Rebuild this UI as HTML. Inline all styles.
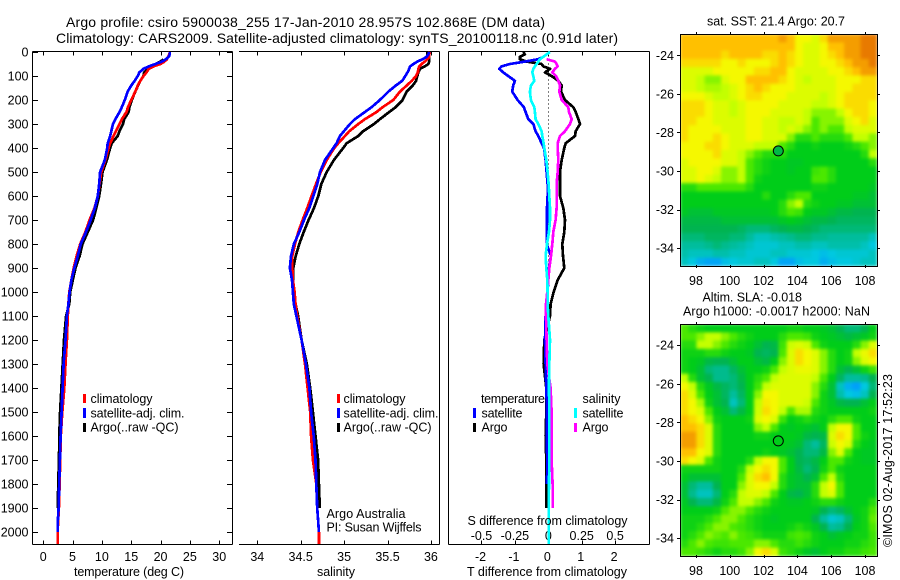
<!DOCTYPE html>
<html>
<head>
<meta charset="utf-8">
<title>Argo profile chart</title>
<style>
html,body{margin:0;padding:0;background:#fff;}
svg{display:block;}
text{font-family:"Liberation Sans",sans-serif;font-size:12.5px;fill:#000;}
</style>
</head>
<body>
<svg id="chart" xmlns="http://www.w3.org/2000/svg" width="900" height="580" viewBox="0 0 900 580">
  <defs>
    <filter id="soft" x="0" y="0" width="100%" height="100%" color-interpolation-filters="sRGB">
      <feGaussianBlur stdDeviation="1.6" edgeMode="duplicate"/>
    </filter>
    <clipPath id="clip-sst"><rect x="680" y="34" width="197" height="232"/></clipPath>
    <clipPath id="clip-sla"><rect x="680" y="324" width="197" height="232"/></clipPath>
  </defs>
  <rect width="900" height="580" fill="#fff"/>

  <text x="66" y="27" textLength="479" lengthAdjust="spacing" style="font-size:14px">Argo profile: csiro 5900038_255 17-Jan-2010 28.957S 102.868E (DM data)</text>
  <text x="56" y="43" textLength="562" lengthAdjust="spacing" style="font-size:14px">Climatology: CARS2009. Satellite-adjusted climatology: synTS_20100118.nc (0.91d later)</text>

  <g id="axes"></g>
  <g id="marks"></g>

  <text x="74" y="576" textLength="110" lengthAdjust="spacing">temperature (deg C)</text>
  <text x="317" y="576" textLength="38" lengthAdjust="spacing">salinity</text>
  <text x="467" y="576" textLength="160" lengthAdjust="spacing">T difference from climatology</text>
  <text x="467.5" y="525" textLength="160" lengthAdjust="spacing">S difference from climatology</text>

  <g>
    <rect x="83" y="394" width="3" height="9" fill="#f00"/>
    <rect x="83" y="408" width="3" height="10" fill="#00f"/>
    <rect x="83" y="423" width="3" height="9" fill="#000"/>
    <text x="90.5" y="403" textLength="62" lengthAdjust="spacing">climatology</text>
    <text x="90.5" y="417.5" textLength="94" lengthAdjust="spacing">satellite-adj. clim.</text>
    <text x="90.5" y="431.5" textLength="88" lengthAdjust="spacing">Argo(..raw -QC)</text>
  </g>
  <g>
    <rect x="337" y="394" width="3" height="9" fill="#f00"/>
    <rect x="337" y="408" width="3" height="10" fill="#00f"/>
    <rect x="337" y="423" width="3" height="9" fill="#000"/>
    <text x="343.5" y="403" textLength="62" lengthAdjust="spacing">climatology</text>
    <text x="343.5" y="417.5" textLength="95" lengthAdjust="spacing">satellite-adj. clim.</text>
    <text x="343.5" y="431.5" textLength="88" lengthAdjust="spacing">Argo(..raw -QC)</text>
  </g>
  <g>
    <text x="481" y="403" textLength="64" lengthAdjust="spacing">temperature</text>
    <rect x="473" y="408" width="3" height="10" fill="#00f"/>
    <rect x="473" y="423" width="3" height="9" fill="#000"/>
    <text x="481.5" y="417.5" textLength="41" lengthAdjust="spacing">satellite</text>
    <text x="481.5" y="431.5" textLength="26" lengthAdjust="spacing">Argo</text>
    <text x="582.5" y="403" textLength="38" lengthAdjust="spacing">salinity</text>
    <rect x="574" y="408" width="3" height="10" fill="#0ff"/>
    <rect x="574" y="423" width="3" height="9" fill="#f0f"/>
    <text x="582.5" y="417.5" textLength="41" lengthAdjust="spacing">satellite</text>
    <text x="582.5" y="431.5" textLength="26" lengthAdjust="spacing">Argo</text>
  </g>

  <text x="326.5" y="518" textLength="79" lengthAdjust="spacing">Argo Australia</text>
  <text x="326.5" y="531.5" textLength="95" lengthAdjust="spacing">PI: Susan Wijffels</text>

  <text x="707" y="25.5" textLength="138" lengthAdjust="spacing">sat. SST: 21.4 Argo: 20.7</text>
  <text x="702.5" y="301.5" textLength="99.5" lengthAdjust="spacing">Altim. SLA: -0.018</text>
  <text x="683" y="315.5" textLength="187" lengthAdjust="spacing">Argo h1000: -0.0017 h2000: NaN</text>
  <text transform="translate(892,547) rotate(-90)" textLength="173" lengthAdjust="spacing">©IMOS 02-Aug-2017 17:52:23</text>

  <g id="maps"></g>
</svg>

<script>
// Depth levels (m) shared by all profile series
const depths = [0,10,20,30,40,50,60,70,85,100,120,140,165,200,230,250,280,300,330,350,380,400,450,500,550,600,650,700,750,800,850,900,950,1000,1050,1100,1200,1300,1400,1500,1600,1700,1800,1900,1950,2000,2050];

const tempClim = [21.6,21.5,21.3,21.1,20.65,20.0,18.8,18.0,17.6,17.1,16.55,16.1,15.7,15.0,14.45,14.2,13.4,13.0,12.4,12.0,11.4,11.15,10.6,9.9,9.6,9.3,8.75,7.9,7.2,6.3,5.7,5.2,4.8,4.45,4.3,4.2,4.04,3.8,3.6,3.25,3.0,2.9,2.8,2.67,2.55,2.45,2.45];
const tempSat = [21.6,21.56,21.4,20.9,20.25,19.1,18.0,17.1,16.4,16.1,15.6,15.0,14.4,13.9,13.4,13.0,12.3,11.9,11.6,11.4,11.0,10.9,10.5,9.7,9.55,9.3,8.8,8.1,7.3,6.4,5.9,5.3,4.8,4.5,4.3,4.04,3.8,3.47,3.3,3.13,2.96,2.84,2.73,2.62,2.5,2.45,null];
const tempArgo = [null,null,null,20.5,20,19.1,18.25,17.8,17.2,17.1,16.55,16.15,15.7,15.1,14.7,14.55,13.8,13.6,13.0,12.7,11.7,11.4,10.85,10.1,9.85,9.55,9.05,8.5,7.6,6.7,6.2,5.5,5.05,4.6,4.45,3.9,3.55,3.32,3.1,2.88,2.75,2.7,2.55,2.5,null,null,null];

const salClim = [35.99,35.98,35.98,35.96,35.93,35.893,35.866,35.855,35.85,35.83,35.78,35.72,35.644,35.567,35.444,35.375,35.24,35.164,35.06,35.01,34.933,34.887,34.80,34.73,34.676,34.626,34.576,34.522,34.472,34.434,34.403,34.403,34.41,34.43,34.44,34.46,34.51,34.55,34.58,34.61,34.62,34.64,34.68,34.69,34.70,34.71,34.71];
const salSat = [35.98,35.97,35.95,35.905,35.843,35.80,35.76,35.75,35.73,35.705,35.67,35.594,35.51,35.413,35.317,35.24,35.125,35.068,34.998,34.952,34.914,34.876,34.78,34.722,34.691,34.645,34.599,34.538,34.484,34.422,34.388,34.376,34.40,34.41,34.42,34.45,34.51,34.56,34.60,34.62,34.65,34.67,34.68,34.69,34.70,34.71,null];
const salArgo = [35.96,35.96,35.98,35.98,35.98,35.97,35.93,35.874,35.855,35.843,35.83,35.79,35.72,35.674,35.594,35.52,35.413,35.344,35.22,35.164,35.03,34.99,34.883,34.80,34.737,34.703,34.653,34.591,34.534,34.484,34.442,34.415,34.41,34.43,34.44,34.47,34.51,34.57,34.61,34.64,34.67,34.70,34.71,34.72,null,null,null];

const diffTSat = [0.05,-0.05,-0.15,-0.3,-0.7,-1.15,-1.4,-1.47,-1.35,-1.2,-1.0,-1.05,-1.08,-0.92,-0.73,-0.68,-0.6,-0.45,-0.38,-0.3,-0.2,-0.13,-0.08,-0.05,-0.02,-0.02,-0.04,-0.04,-0.05,-0.05,0.08,0.02,0,-0.02,-0.05,-0.08,-0.1,-0.08,-0.06,-0.04,-0.05,-0.03,-0.04,null,null,null,null];
const diffTArgo = [-0.75,-0.7,-0.85,-0.85,-0.65,-0.2,-0.15,0.05,-0.1,0.1,0.3,0.4,0.38,0.5,0.75,0.82,0.9,0.95,0.82,0.8,0.52,0.48,0.4,0.35,0.35,0.35,0.45,0.5,0.48,0.42,0.44,0.48,0.28,0.16,0.07,0.05,-0.12,-0.14,-0.06,-0.06,-0.08,-0.06,-0.05,-0.06,null,null,null];
const diffSSat = [0.0125,-0.0125,-0.0375,-0.0625,-0.075,-0.0875,-0.1,-0.1125,-0.12,-0.1125,-0.105,-0.13,-0.1375,-0.13,-0.105,-0.1,-0.095,-0.075,-0.05,-0.045,-0.035,-0.03,-0.015,-0.005,0.0025,0.0075,0.0125,0.0125,0.005,-0.01,-0.02,-0.015,-0.0075,-0.005,-0.005,0,0.0125,0.0075,0.005,0.0075,0.0075,0.0075,0.005,0.0025,0.0025,0.0025,0.0025];
const diffSArgo = [null,null,null,-0.0125,0.05,0.0625,0.07,0.05,0.03,0.0575,0.075,0.0875,0.0825,0.1,0.15,0.155,0.175,0.1625,0.125,0.0875,0.07,0.07,0.075,0.07,0.0625,0.0625,0.0625,0.055,0.0375,0.03,0.02,0.0075,0,-0.0075,-0.0175,-0.0175,-0.0125,-0.0075,0.0175,0.025,0.025,0.025,0.0325,0.0325,null,null,null];

// Tick labels
const depthTicks = [0,100,200,300,400,500,600,700,800,900,1000,1100,1200,1300,1400,1500,1600,1700,1800,1900,2000];
const tempTicks = [0,5,10,15,20,25,30];
const salTicks = [34,34.5,35,35.5,36];
const diffTTicks = [-2,-1,0,1,2];
const diffSTicks = [-0.5,-0.25,0,0.25,0.5];
const lonTicks = [98,100,102,104,106,108];
const latTicks = [-24,-26,-28,-30,-32,-34];

// Map colour levels (0 = coolest/lowest, 9 = warmest/highest), rows north to south
const sstLevels = [
[8,8,8,8,8,8,8,8,8,8,8,8,8.5,8,7,7,6.5,7.5,8.5,8.5,8.5,8.5,9,9],
[8,8,8,8,8,8,8,8,8,8,8,8,8,8,7,6.5,6.5,7,8,8,8.5,8.5,9,9],
[8,8,8,8,8,7.5,8,8,8,8,7.5,7.5,8,7.5,7,6.5,6.5,7,7.5,8,8.5,8.5,9,9],
[7.5,7.5,7.5,7.5,7.5,7,7,7.5,7,7,7,7.5,8,7.5,7,6.5,6.5,7,7,7.5,8,8.5,8.5,9],
[6.5,6.5,6.5,6.5,7,7,7,7,7,7.5,7.5,8,8,7,6.5,6.5,6.5,6.5,7,7,7.5,8,8.5,8.5],
[6.5,6.5,6,5.5,5.5,6.5,7,7,8,8,8,8,7.5,7,6.5,6,6.5,6.5,6.5,7,7,7,7.5,7.5],
[6.5,6.5,6,5.8,5.8,6,6.5,7,7.5,8,7.5,7,7,7,6.5,6.5,6.5,6.5,6.5,7,7,7.5,7.5,7.5],
[7,7,7,6.5,6,6,6.5,7,7.5,7.5,7,7,7,6.5,6.5,6.5,6.5,6,6.5,7,7.5,7.5,7.5,7.5],
[7.5,7.5,7.5,7,6.5,6.5,6,6.5,7,7,7,7,6.5,6.5,6.5,6.5,6,6,6.5,7,7.5,7.5,7.5,7],
[7.5,7.5,7.5,7,6.5,6.5,6,6.5,7,7,7,6.5,6.5,6.5,6.5,6,5.5,5.5,5.5,6,7,7.5,7.5,7],
[7.5,7.5,7,7,6.5,6.5,6.5,6.5,7,7,6.5,6.5,6,6,6.5,6,5,5.5,5.5,5.5,6.5,7,7.5,6.5],
[7.5,7,7,7,7,6.5,6.5,6.5,7,7,6.5,6.5,6,6.5,6,5.5,5,5.5,5,5,6,6.5,6.5,6.5],
[7.5,7,7,7,7.5,7,6.5,6.5,7,7,6.5,6.5,6.5,5.5,4.5,4.5,5,4.5,4.5,4.5,5,6,6,5.5],
[7,7,7,7.5,7.5,7,6.5,6.5,6.5,6,6,6,5,4.5,4,4,4.2,4,4,4,4.2,4.5,5,5.5],
[7,7,7,7,7.5,6.5,6.5,6,5.5,5,4.5,4.5,4.5,4,4,4,4,4,4,4,4,4,4.5,6],
[6.5,7,7,7,7,6.5,6.5,6,5,4.5,4.2,4,4,3.8,3.8,4,4,4,4,4,4,4,4,4.5],
[6.5,6.5,7,7,6.5,5.5,5.5,6,5,4.5,4.2,4,4,3.8,4,4,4.8,5,4.5,4,4,4,4,4],
[6.5,6.5,7,6.5,6,5.5,5.5,6,5,4.2,4,4,4,4,4,4,5,5,4.5,4,4,4,4,4],
[4.5,4.5,5,5,5,5,5,5,4.5,4,4,4,4,4,4,4,4.2,4.2,4,4,4,4,4,3.8],
[4,4,4,4,4,4,4,4,4,4,4.5,4,4,4.5,5,5,4,4,4,4,4,3.8,3.8,3.5],
[4,4,4,4,4,4,4,4,4,4,4,4,4.5,5.5,6,4.5,4.2,4,4,3.8,3.8,3.5,3.5,3.5],
[3.8,3.5,3.5,3.5,3.8,3.8,3.8,3.8,3.8,3.8,3.8,4,4.5,5,4.8,4,3.8,3.8,3.5,3.2,3.2,3,3,3],
[3.2,3.2,3.2,3.2,3.2,3.5,3.5,3.5,3.5,3.5,3.5,3.5,3.8,4,3.8,3.5,3.2,3.2,3,2.8,2.8,2.8,2.8,2.8],
[3,3,3,3,3,3,3,2.8,2.5,2.5,2.5,2.8,3,3.2,3.2,3,2.8,2.5,2.5,2.5,2.5,2.5,2.5,2.5],
[2.5,2.5,2.5,2.8,2.8,2.8,2.5,2.5,2,1.5,1.5,1.8,2,2.2,2.5,2.5,2.2,2.2,2,2,2,2,2,1.5],
[2,2,2,2.2,2.5,2.2,2,1.8,1.5,1.2,1.2,1.2,1.5,1.5,1.8,1.8,1.5,1.5,1.8,1.8,1.8,1.8,1.5,1],
[1.8,1.5,1.5,1.5,1.8,1.8,1.5,1.5,1.2,1.2,1.2,1.5,1.5,1.2,1.2,1.2,1,0.8,1,1.2,1.2,1.2,1.2,1.5],
[1.5,1,0.5,0.3,0.3,0.8,1,1.2,1.2,1.5,1.5,1,0.3,0.3,0.8,1,1,0.5,0.8,1,1,1.2,1.5,1.5]
];
const slaLevels = [
[5,4.5,4.2,4,4,4,4,4,4,4,4,4,4,4.2,4.2,4,4,3.8,3.5,3,2.5,2.5,3,4],
[5,5,5.5,6,6,5.5,5,4.5,4.2,4,4,4,4.5,5,5,4.8,4.2,4,3.8,3.5,3.2,3.5,3.8,4.2],
[4.5,4.5,6,6,5.5,5,4.5,4.2,4,3.5,3,3.2,4.8,6.2,6.5,6.2,5,4.2,4,4,4,4.5,5.5,6.5],
[4.2,4.2,4.2,4.5,4.5,4.2,4,4,3.8,3,2.8,3,5,6.5,7.5,7,6.5,5.5,4.5,4,4.2,6,6.8,7.5],
[4.2,4,3.8,3.2,3,3,3.5,4,4,3.5,3.2,4,5.5,6.5,7.5,7,6.5,5.5,4.5,4,4.2,5.5,6.5,7],
[4.2,4,3.5,2.5,2.2,2.2,2.8,3.5,4,4,4.2,5,6,6.5,6.8,6.8,6.5,5.5,4.5,3.5,3,3.5,4.2,4.8],
[6,4.5,3.5,3,2.2,2.2,2.5,3.2,4,4.5,5,6,6.5,6.5,6.5,6.5,6,5,4,2.8,2,2,2.2,3],
[7,6,4.5,3.8,3.2,2.8,2.5,3,4,4.8,6,6.5,6.5,6.5,6.5,6.5,5.5,4.5,3.5,1.5,0.5,0.2,1,2.5],
[7.5,6.5,5,4,3.5,2.8,2,2.8,4,5.5,7,7,6.5,6.5,6.5,6.5,5.5,4.2,3.5,1.8,1,0.8,1.5,3],
[7.5,7,5.8,4.2,3.5,3,1.5,2.5,4,6,7.2,7,6.5,6.5,6.5,6.2,5,4.2,3.8,3.2,3,3,3.5,4],
[7.5,7,6.5,5,4,3.5,2.5,3.2,4,6.2,7.5,7,6,5,5.8,5.8,4.5,4.2,4,4,4,4,4,4.2],
[8,7.5,7,5.5,4.2,4,4,4,4.2,6.5,7,6.5,4.8,4,4.2,4.5,4.2,4,4.5,5,5,4.2,4,4],
[8,8,7.5,6.5,4.5,4,4,4,4,5.5,6,5,4,3.8,4,3.8,3.5,4,6,7,7,5,4,4],
[8.5,8.5,7.5,6.5,4.5,4,4,4,4,4.2,4.2,4,4,4,3.8,3.2,3,3.2,6.5,7.5,7,5,4.2,4],
[8.5,8.5,7.5,6.5,4.5,4,4,4,4,4,4,4,4,3.8,3.5,2.5,2,2.8,6.2,7,6.5,4.5,4,3.8],
[8,8,7,6.5,4.5,4,4,4,4,4,4.2,4,3.8,3.5,3,2.5,2.5,3.2,5.5,6.5,5,4,3.8,3.8],
[7.5,7,6.5,5,4.2,4,4,4,4.5,6,7,7,5,4,3,2.8,3.2,4,5,5,4.2,4,3.8,3.8],
[4.2,4.2,4.2,4.2,4.2,4,4,4.5,6,7,7.5,7,5,4,3.2,2.5,3,4.2,5,4.2,4,4,4,4],
[4,3.5,3.5,3.5,3.5,4,4,5,6.5,7.5,8,7,4.5,3.8,3.5,3,3.5,5,6,4.5,4,4,4,4],
[3.5,2.5,2,2,3,4,4,5.5,6.5,7,7,6,4.5,3.8,3.5,3.5,4.5,6,7,5,4,4,4,4],
[3.5,2.2,1.5,1.5,2.5,4,4.5,6,6.5,6.5,6,5,4,3.2,3,3.5,4.5,6,6.5,5,4,4,4,4],
[3.8,3,2.5,2.5,3.2,4.2,5,6,6,5.5,5,4.2,4,3.8,3.8,4,4.2,4.5,4.5,4.2,4,4,4,4.5],
[4,4,4,4,4.2,5,5.5,5.5,5,4.5,4.2,4,4,4,4,4,3.8,3,2.5,2.8,3.5,4,4.2,5],
[4.2,4.2,4.2,4.5,5,5.5,5.5,5,4.5,4.2,4,3.8,4,4,4,4,3,2,1.2,1.5,2.5,3.8,4.2,5.2],
[4.2,4.2,4.5,5,5.5,5.5,5,4.8,4.5,4.2,4,4,4,4.2,4.5,4.2,3.8,3,2,2.2,3,4,4.2,5],
[4.2,4.5,5,5.5,5.2,5,5.5,5,4.8,4.5,4.2,4.2,4.2,4.8,5,4.8,4.2,4,3.5,3.8,4,4.2,4.2,4.8],
[4.5,5,5.5,5,4.8,4.8,5,5,5,5.5,5.5,5,4.5,4.5,4.8,4.5,4.2,4,4,4,4.2,4.2,4.5,4.8],
[5,5,4.8,4.5,4.2,4.5,4.5,4.8,5.5,7,7.5,6.5,4.8,4.5,4.2,3.8,3.5,4,4.2,4.2,4.5,4.5,4.8,5]
];
const floatLon = 102.868;
const floatLat = -28.957;
const floatSstLevel = 3.2;
const floatSlaLevel = 4;

const NS = 'http://www.w3.org/2000/svg';
const axes = document.getElementById('axes');
const marks = document.getElementById('marks');
const maps = document.getElementById('maps');

// Axis functions
function yDepth(d){ return 52 + d * 0.24; }
function xTemp(t){ return 43.2 + t * 5.867; }
function xSal(s){ return 257.3 + (s - 34) * 86.8; }
function xDiffT(t){ return 548.3 + t * 33.4; }
function xDiffS(s){ return 548.3 + s * 133.6; }
function xLon(lon){ return 696 + (lon - 98) * 16.9; }
function ySst(lat){ return 55.3 + (-24 - lat) * 19.28; }
function ySla(lat){ return 345.2 + (-24 - lat) * 19.3; }

const colorStops = [[0,150,255],[0,200,224],[0,189,156],[0,180,80],[0,205,25],[75,232,0],[195,255,0],[245,248,0],[255,192,0],[232,122,0]];
function levelColor(v){
  const c = Math.max(0, Math.min(9, v));
  const i = Math.min(8, Math.floor(c));
  const f = c - i;
  const a = colorStops[i];
  const b = colorStops[i + 1];
  return 'rgb(' + Math.round(a[0] + (b[0] - a[0]) * f) + ',' + Math.round(a[1] + (b[1] - a[1]) * f) + ',' + Math.round(a[2] + (b[2] - a[2]) * f) + ')';
}

function seg(parent, x1, y1, x2, y2){
  const el = document.createElementNS(NS, 'line');
  
  
  el.setAttribute('x1', x1);
  el.setAttribute('y1', y1);
  el.setAttribute('x2', x2);
  el.setAttribute('y2', y2);
  el.setAttribute('stroke', '#000');
  el.setAttribute('stroke-width', '1');
  el.setAttribute('shape-rendering', 'crispEdges');
  parent.appendChild(el);
  return el;
}
function label(parent, x, y, str, anchor){
  const el = document.createElementNS(NS, 'text');
  
  
  el.setAttribute('x', x);
  el.setAttribute('y', y);
  el.setAttribute('text-anchor', anchor);
  el.textContent = str;
  parent.appendChild(el);
  return el;
}
function profile(xFn, values, color, width){
  let pts = [];
  const flush = function(){
    if (pts.length > 1) {
      const el = document.createElementNS(NS, 'polyline');
      
      
      el.setAttribute('points', pts.join(' '));
      el.setAttribute('fill', 'none');
      el.setAttribute('stroke', color);
      el.setAttribute('stroke-width', width);
      el.setAttribute('stroke-linejoin', 'round');
      el.setAttribute('shape-rendering', 'crispEdges');
      marks.appendChild(el);
    }
    pts = [];
  };
  values.forEach(function(v, i){
    if (v === null) { flush(); return; }
    pts.push(xFn(v).toFixed(1) + ',' + yDepth(depths[i]).toFixed(1));
  });
  flush();
}

// Panel frames
const TOP = 51.5, BOTTOM = 544.5;
seg(axes, 32.5, TOP, 232.5, TOP);
seg(axes, 32.5, BOTTOM, 232.5, BOTTOM);
seg(axes, 32.5, TOP, 32.5, BOTTOM);
seg(axes, 232.5, TOP, 232.5, BOTTOM);
seg(axes, 239, TOP, 439.5, TOP);
seg(axes, 239, BOTTOM, 439.5, BOTTOM);
seg(axes, 439.5, TOP, 439.5, BOTTOM);
seg(axes, 448.5, TOP, 649.5, TOP);
seg(axes, 448.5, BOTTOM, 649.5, BOTTOM);
seg(axes, 448.5, TOP, 448.5, BOTTOM);
seg(axes, 649.5, TOP, 649.5, BOTTOM);

depthTicks.forEach(function(d){
  const y = Math.round(yDepth(d)) + 0.5;
  seg(axes, 32.5, y, 38, y);
  seg(axes, 227, y, 232.5, y);
  label(axes, 28.5, yDepth(d) + 4.5, String(d), 'end');
});
tempTicks.forEach(function(t){
  const x = Math.round(xTemp(t)) + 0.5;
  seg(axes, x, TOP, x, TOP + 4);
  seg(axes, x, BOTTOM - 4, x, BOTTOM);
  label(axes, xTemp(t), 561, String(t), 'middle');
});
salTicks.forEach(function(s){
  const x = Math.round(xSal(s)) + 0.5;
  seg(axes, x, TOP, x, TOP + 4);
  seg(axes, x, BOTTOM - 4, x, BOTTOM);
  label(axes, xSal(s), 561, String(s), 'middle');
});
diffTTicks.forEach(function(t){
  const x = Math.round(xDiffT(t)) + 0.5;
  seg(axes, x, TOP, x, TOP + 4);
  seg(axes, x, BOTTOM - 4, x, BOTTOM);
  label(axes, xDiffT(t) - 1, 561, String(t), 'middle');
});
diffSTicks.forEach(function(s){
  label(axes, xDiffS(s), 540, String(s), 'middle');
});

// Zero reference line in the difference panel
const zeroLine = seg(axes, 548.5, TOP, 548.5, 330);
zeroLine.setAttribute('stroke-dasharray', '1 3');

// Profiles
profile(xTemp, tempArgo, '#000', 2.7);
profile(xTemp, tempClim, '#f00', 2.7);
profile(xTemp, tempSat, '#00f', 2.7);
profile(xSal, salArgo, '#000', 2.7);
profile(xSal, salClim, '#f00', 2.7);
profile(xSal, salSat, '#00f', 2.7);
profile(xDiffT, diffTArgo, '#000', 2.7);
profile(xDiffT, diffTSat, '#00f', 2.7);
profile(xDiffS, diffSArgo, '#f0f', 2.7);
profile(xDiffS, diffSSat, '#0ff', 2.7);

// Maps
function drawMap(levels, top, bottom, clipId, yFn, markerLevel){
  const clipped = document.createElementNS(NS, 'g');
  
  
  clipped.setAttribute('clip-path', 'url(#' + clipId + ')');
  const g = document.createElementNS(NS, 'g');
  
  
  g.setAttribute('filter', 'url(#soft)');
  const left = 680, right = 877;
  const cw = (right - left) / levels[0].length;
  const ch = (bottom - top) / levels.length;
  levels.forEach(function(row, r){
    row.forEach(function(v, c){
      const el = document.createElementNS(NS, 'rect');
      
      
      el.setAttribute('x', (left + c * cw).toFixed(2));
      el.setAttribute('y', (top + r * ch).toFixed(2));
      el.setAttribute('width', (cw + 0.5).toFixed(2));
      el.setAttribute('height', (ch + 0.5).toFixed(2));
      el.setAttribute('fill', levelColor(v));
      g.appendChild(el);
    });
  });
  clipped.appendChild(g);
  maps.appendChild(clipped);

  const frame = document.createElementNS(NS, 'rect');
  
  
  frame.setAttribute('x', left + 0.5);
  frame.setAttribute('y', top + 0.5);
  frame.setAttribute('width', right - left);
  frame.setAttribute('height', bottom - top);
  frame.setAttribute('fill', 'none');
  frame.setAttribute('stroke', '#000');
  frame.setAttribute('shape-rendering', 'crispEdges');
  maps.appendChild(frame);

  lonTicks.forEach(function(lon){
    const x = Math.round(xLon(lon)) + 0.5;
    seg(maps, x, top - 2, x, top + 1);
    seg(maps, x, bottom - 1, x, bottom + 2);
    label(maps, xLon(lon), bottom + 19, String(lon), 'middle');
  });
  latTicks.forEach(function(lat){
    const y = Math.round(yFn(lat)) + 0.5;
    seg(maps, left - 3, y, left + 1, y);
    seg(maps, right, y, right + 3, y);
    label(maps, 674, yFn(lat) + 4.5, String(lat), 'end');
  });

  const dot = document.createElementNS(NS, 'circle');
  
  
  dot.setAttribute('cx', xLon(floatLon).toFixed(1));
  dot.setAttribute('cy', yFn(floatLat).toFixed(1));
  dot.setAttribute('r', '5');
  dot.setAttribute('fill', levelColor(markerLevel));
  dot.setAttribute('stroke', '#000');
  dot.setAttribute('stroke-width', '1');
  maps.appendChild(dot);
}
drawMap(sstLevels, 34, 266, 'clip-sst', ySst, floatSstLevel);
drawMap(slaLevels, 324, 556, 'clip-sla', ySla, floatSlaLevel);
</script>
</body>
</html>
